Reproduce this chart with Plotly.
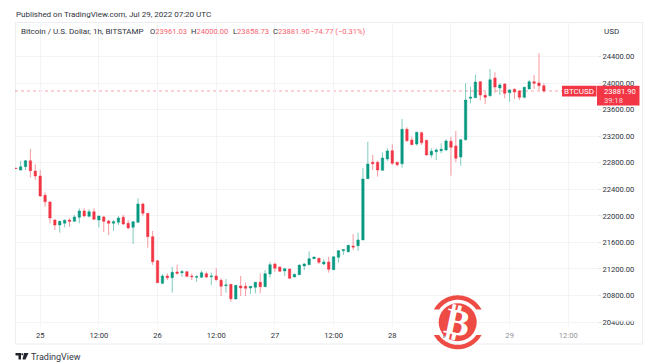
import numpy as np
import pandas as pd
import plotly.graph_objects as go

W, H = 652, 362
L, R, T, B = 15, 597, 23, 327

dates = pd.date_range("2022-07-24 19:00", periods=109, freq="h")
opens = [22717,22691,22741,22831,22676,22601,22310,22209,21938,21863,21889,21938,21918,21979,22074,21994,22063,21938,21984,21923,21889,21904,21979,21889,21828,21904,22179,22039,21687,21325,20984,21094,21069,21155,21144,21159,21094,21075,21075,21129,21084,21094,21030,20948,20969,20748,20944,20939,20914,20924,21000,20933,21125,21275,21230,21170,21200,21079,21114,21245,21265,21355,21361,21275,21305,21190,21376,21476,21461,21546,21551,21637,22560,22808,22808,22687,22857,22982,22808,22786,23305,23143,23083,23253,23139,22918,22967,22982,22993,23124,23053,22887,23148,23772,23781,24022,23817,23811,24078,23927,23987,23856,23907,23882,23787,23912,24022,24002,23961.03]
highs = [22722,22831,22842,23008,22777,22691,22355,22224,21949,21927,21949,21964,22014,22114,22114,22099,22114,21999,21999,21938,21938,21999,22014,21938,21913,22265,22199,22044,21772,21335,21125,21135,21235,21265,21185,21170,21135,21110,21174,21159,21144,21210,21060,21049,20974,20959,21094,20994,20944,21000,21135,21185,21305,21295,21235,21220,21205,21129,21265,21290,21467,21381,21370,21346,21385,21385,21486,21501,21562,21727,21747,22717,23118,22918,22830,22958,23018,23078,22808,23460,23335,23193,23268,23268,23143,23018,23018,23094,23154,23193,23279,23154,23998,23947,24123,24032,23871,24213,24163,23998,23998,23907,23922,23897,23947,24047,24123,24450,24000]
lows = [22710,22681,22691,22581,22541,22289,22139,21888,21787,21747,21828,21837,21908,21888,21979,21979,21938,21828,21757,21712,21777,21863,21863,21798,21577,21898,21999,21521,21260,20989,20974,21034,20843,21114,21084,21075,21034,21004,21060,21060,20959,21024,20793,20843,20707,20743,20793,20793,20823,20834,20834,20933,21069,21159,21159,21094,21049,21075,21110,21185,21260,21355,21275,21260,21144,21185,21295,21411,21446,21486,21471,21637,22556,22691,22591,22681,22827,22767,22741,22726,23118,23068,23058,23068,22907,22877,22842,22943,22982,22606,22808,22756,23133,23696,23781,23741,23686,23796,23856,23822,23772,23720,23761,23746,23772,23907,23912,23897,23858.73]
closes = [22715,22741,22831,22681,22601,22300,22214,21968,21863,21918,21934,21918,21984,22074,21999,22063,21949,21999,21918,21889,21913,21968,21878,21818,21913,22179,22039,21687,21310,20994,21094,21069,21150,21135,21159,21090,21084,21084,21144,21079,21094,21039,20939,20959,20752,20954,20914,20909,20939,21000,20933,21129,21265,21210,21165,21205,21060,21120,21260,21275,21355,21381,21301,21305,21195,21385,21476,21491,21557,21531,21637,22556,22782,22786,22691,22872,22978,22792,22771,23305,23133,23073,23259,23103,22918,22973,22993,23003,23129,23033,22868,23148,23746,23787,24017,23821,23787,24052,23942,23972,23847,23897,23867,23787,23937,24022,23998,23961,23881.90]

price_ticks = [20400, 20800, 21200, 21600, 22000, 22400, 22800, 23200, 23600, 24000, 24400]
time_ticks = ["2022-07-25 00:00","2022-07-25 12:00","2022-07-26 00:00","2022-07-26 12:00","2022-07-27 00:00","2022-07-27 12:00","2022-07-28 00:00","2022-07-28 12:00","2022-07-29 00:00","2022-07-29 12:00"]
time_labels = ["25","12:00","26","12:00","27","12:00","28","12:00","29","12:00"]

GREEN, RED = "#089981", "#f23645"
PINK = "#f7636f"
TXT = "#2f333c"
FONT = "Roboto"
FS = 8
NUM = 7.6


def px(x):
    return (x - L) / (R - L)


def py(y):
    return (B - y) / (B - T)


fig = go.Figure(go.Candlestick(
    x=dates, open=opens, high=highs, low=lows, close=closes,
    whiskerwidth=0,
    increasing=dict(line=dict(color="rgba(8,153,129,0.5)", width=1), fillcolor=GREEN),
    decreasing=dict(line=dict(color="rgba(242,54,69,0.5)", width=1), fillcolor=RED),
    showlegend=False,
))

shapes = []
annos = []


def text(x, y, s, color=TXT, size=FS, anchor="left", family=FONT, **kw):
    annos.append(dict(x=px(x), y=py(y), xref="paper", yref="paper", text=s, showarrow=False,
                      xanchor=anchor, yanchor="middle",
                      font=dict(family=family, size=size, color=color),
                      borderpad=0, borderwidth=0, **kw))


def rect(x0, y0, x1, y1, fill, line=None, layer="above"):
    shapes.append(dict(type="rect", xref="paper", yref="paper", x0=px(x0), x1=px(x1), y0=py(y0), y1=py(y1),
                       fillcolor=fill, line=dict(width=1 if line else 0, color=line or fill), layer=layer))


def poly(points, fill):
    d = "M" + "L".join(f"{px(a):.5f},{py(b):.5f}" for a, b in points) + "Z"
    shapes.append(dict(type="path", path=d, xref="paper", yref="paper", fillcolor=fill, line=dict(width=0), layer="above"))


# outer frame
shapes.append(dict(type="rect", xref="paper", yref="paper", x0=px(15.5), x1=px(642.5), y0=py(344), y1=py(22.5),
                   line=dict(color="#eceef3", width=1.2), fillcolor="rgba(0,0,0,0)", layer="below"))

# last price line
shapes.append(dict(type="line", xref="paper", yref="y", x0=0, x1=1, y0=closes[-1], y1=closes[-1],
                   line=dict(color="rgba(242,54,69,0.45)", width=1, dash="dot"), layer="below"))

# price labels
rect(562, 85.7, 596.5, 96.4, RED)
rect(597, 85.7, 639.5, 105.4, RED)
text(579, 91, "BTCUSD", "#ffffff", anchor="center")
text(603.5, 91, "23881.90", "#ffffff", size=NUM)
text(603.5, 100.5, "39:18", "#ffd9dd", size=NUM)

# header
text(15.5, 14.5, "Published on TradingView.com, Jul 29, 2022 07:20 UTC")
text(20.5, 32, "Bitcoin / U.S. Dollar, 1h, BITSTAMP")
for x0, s in [(149.5, f"O<span style='color:{PINK}'>23961.03</span>"),
              (191, f"H<span style='color:{PINK}'>24000.00</span>"),
              (232.5, f"L<span style='color:{PINK}'>23858.73</span>"),
              (273, f"C<span style='color:{PINK}'>23881.90</span>")]:
    text(x0, 32, s, size=NUM)
text(310, 32, f"<span style='color:{PINK}'>\u221274.77 (\u22120.31%)</span>", size=NUM)
text(603.5, 31.5, "USD")

# footer
text(30.5, 356.5, "TradingView", "#33373f", size=9)
poly([(15.5, 353), (21, 353), (21, 359.5), (18.5, 359.5), (18.5, 355.5), (15.5, 355.5)], "#20242c")
poly([(24, 353), (28.5, 353), (25.5, 359.5), (22.5, 359.5)], "#20242c")
shapes.append(dict(type="circle", xref="paper", yref="paper", x0=px(21.2), x1=px(23.2), y0=py(355.2), y1=py(353.2),
                   fillcolor="#20242c", line=dict(width=0), layer="above"))

# faded, partly erased labels beneath the badge
rect(500, 328, 520, 342, "rgba(255,255,255,0.45)")
rect(556, 328, 582, 342, "rgba(255,255,255,0.45)")
rect(612, 318, 640, 321.5, "rgba(255,255,255,0.85)")

# badge
BX, BY = 457.7, 322.3
LOGO = "#ee4b45"
shapes.append(dict(type="circle", xref="paper", yref="paper", x0=px(BX - 19), x1=px(BX + 19), y0=py(BY + 19), y1=py(BY - 19),
                   fillcolor=LOGO, line=dict(width=0), layer="above"))
for a0, a1, i0, i1 in [(208, 332, 214.4, 325.6), (28, 152, 34.4, 145.6)]:
    outer = [(BX + 27 * np.cos(v), BY + 27 * np.sin(v)) for v in np.radians(np.linspace(a0, a1, 40))]
    inner = [(BX + 22.5 * np.cos(v), BY + 22.5 * np.sin(v)) for v in np.radians(np.linspace(i1, i0, 40))]
    poly(outer + inner, LOGO)
text(BX, BY, "<b>\u20bf</b>", "#ffffff", size=37, anchor="center", family="DejaVu Sans", textangle=12)

fig.update_layout(
    width=W, height=H, autosize=False,
    margin=dict(l=L, r=W - R, t=T, b=H - B),
    paper_bgcolor="#ffffff", plot_bgcolor="#ffffff",
    font=dict(family=FONT, size=NUM, color=TXT),
    shapes=shapes, annotations=annos, showlegend=False,
    xaxis=dict(type="date", range=["2022-07-24 18:51", "2022-07-29 17:52"], rangeslider=dict(visible=False),
               tickmode="array", tickvals=time_ticks, ticktext=time_labels, showgrid=True, ticklabelstandoff=2,
               gridcolor="#f3f4f7", gridwidth=1, zeroline=False, showline=False, ticks="", tickfont=dict(size=NUM, color=TXT)),
    yaxis=dict(side="right", range=[20326, 24906], tickmode="array", tickvals=price_ticks, tickformat=".2f",
               showgrid=True, gridcolor="#f3f4f7", gridwidth=1, zeroline=False, showline=False,
               ticks="outside", ticklen=3, tickcolor="#e3e5ea", tickfont=dict(size=NUM, color=TXT)),
)

fig.write_html("out.html", config=dict(displayModeBar=False),
               post_script="document.body.style.margin='0';document.body.style.overflow='hidden';")
